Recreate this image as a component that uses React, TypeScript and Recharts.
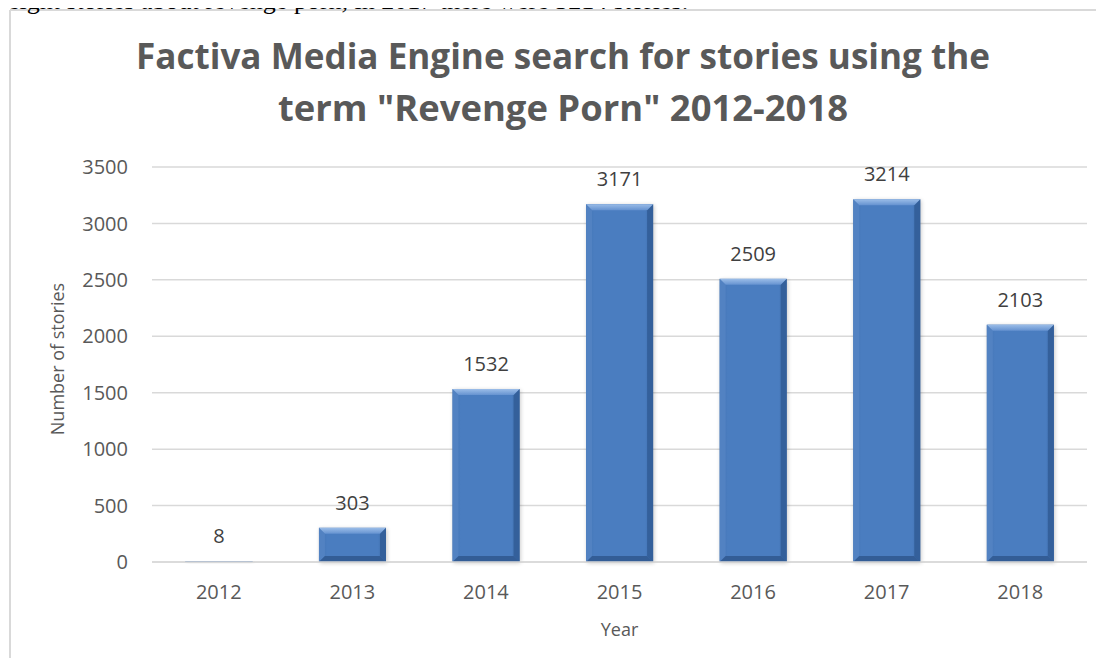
import React from 'react';
import { BarChart, Bar, XAxis, YAxis, CartesianGrid, LabelList, Label } from 'recharts';

const years = ['2012', '2013', '2014', '2015', '2016', '2017', '2018'];
const stories = [8, 303, 1532, 3171, 2509, 3214, 2103];
const yTicks = [0, 500, 1000, 1500, 2000, 2500, 3000, 3500];
const titleLines = ['Factiva Media Engine search for stories using the', 'term "Revenge Porn" 2012-2018'];
const xTitle = 'Year';
const yTitle = 'Number of stories';
const captionText = 'eight stories about revenge porn, in 2017 there were 3214 stories.';

const data = years.map((year, i) => ({ year, stories: stories[i] }));

const FONT = '"Open Sans", "DejaVu Sans", sans-serif';

function BevelBar(props: any) {
  const { x, y, width, height } = props;
  if (width == null || height == null || height <= 0) return null;
  const b = Math.min(6, height / 2, width / 2);
  const r = x + width;
  const btm = y + height;
  return (
    <g>
      <defs>
        <linearGradient id="barBody" x1="0" y1="0" x2="1" y2="0">
          <stop offset="0" stopColor="#3f6fae" />
          <stop offset="0.12" stopColor="#4a7dc0" />
          <stop offset="0.88" stopColor="#4a7dc0" />
          <stop offset="1" stopColor="#3a68a6" />
        </linearGradient>
        <linearGradient id="barTop" x1="0" y1="0" x2="0" y2="1">
          <stop offset="0" stopColor="#9bbde8" />
          <stop offset="1" stopColor="#6592d0" />
        </linearGradient>
        <filter id="barShadow" x="-20%" y="-20%" width="140%" height="140%">
          <feGaussianBlur stdDeviation="2" />
        </filter>
      </defs>
      <rect x={x + 1} y={y + 1} width={width} height={height} fill="#000" opacity={0.22} filter="url(#barShadow)" />
      <rect x={x} y={y} width={width} height={height} fill="url(#barBody)" />
      <polygon points={`${x},${y} ${x + b},${y + b} ${x + b},${btm - b} ${x},${btm}`} fill="#5282c2" />
      <polygon points={`${r},${y} ${r - b},${y + b} ${r - b},${btm - b} ${r},${btm}`} fill="#34609b" />
      <polygon points={`${x},${btm} ${x + b},${btm - b} ${r - b},${btm - b} ${r},${btm}`} fill="#335d96" />
      <polygon points={`${x},${y} ${r},${y} ${r - b},${y + b} ${x + b},${y + b}`} fill="url(#barTop)" />
    </g>
  );
}

function YTitle() {
  return (
    <text
      x={57}
      y={359}
      transform="rotate(-90 57 359)"
      textAnchor="middle"
      dominantBaseline="central"
      fill="#595959"
      fontSize={18}
      fontFamily={FONT}
    >
      {yTitle}
    </text>
  );
}

export default function App() {
  return (
    <div style={{ position: 'relative', width: 1104, height: 666, margin: -8, overflow: 'hidden', background: '#fff' }}>
      <svg width={1104} height={666} style={{ position: 'absolute', left: 0, top: 0 }}>
        <line x1={10} y1={10} x2={1104} y2={10} stroke="#d9d9d9" strokeWidth={2} />
        <line x1={10} y1={10} x2={10} y2={666} stroke="#d9d9d9" strokeWidth={2} />
      </svg>
      <div style={{ position: 'absolute', left: 0, top: 0 }}>
        <BarChart
          width={1104}
          height={666}
          data={data}
          margin={{ top: 167, right: 17, bottom: 24, left: 0 }}
          barCategoryGap="25%"
        >
          <CartesianGrid vertical={false} stroke="#d9d9d9" strokeWidth={1.5} />
          <XAxis
            dataKey="year"
            height={80}
            tickLine={false}
            tickSize={0}
            tickMargin={23}
            axisLine={{ stroke: '#d9d9d9', strokeWidth: 1.5 }}
            tick={{ fill: '#595959', fontSize: 20, fontFamily: FONT }}
            interval={0}
          >
            <Label value={xTitle} position="insideBottom" offset={6} fill="#595959" fontSize={18} fontFamily={FONT} />
          </XAxis>
          <YAxis
            width={152}
            domain={[0, 3500]}
            ticks={yTicks}
            interval={0}
            tickLine={false}
            tickSize={0}
            tickMargin={24}
            axisLine={false}
            tick={{ fill: '#595959', fontSize: 20, fontFamily: FONT }}
          >
            <Label content={<YTitle />} />
          </YAxis>
          <Bar dataKey="stories" shape={<BevelBar />} isAnimationActive={false}>
            <LabelList dataKey="stories" position="top" offset={18} fill="#404040" fontSize={20} fontFamily={FONT} />
          </Bar>
        </BarChart>
      </div>
      <svg width={1104} height={666} style={{ position: 'absolute', left: 0, top: 0, pointerEvents: 'none' }}>
        <text x={8} y={9} fontFamily='"Liberation Serif", "Times New Roman", serif' fontSize={26} fill="#000">
          {captionText}
        </text>
        <text
          x={563}
          y={69}
          textAnchor="middle"
          fontFamily={FONT}
          fontWeight={700}
          fontSize={36}
          fill="#595959"
          textLength={854}
          lengthAdjust="spacingAndGlyphs"
        >
          {titleLines[0]}
        </text>
        <text
          x={563}
          y={121}
          textAnchor="middle"
          fontFamily={FONT}
          fontWeight={700}
          fontSize={36}
          fill="#595959"
          textLength={570}
          lengthAdjust="spacingAndGlyphs"
        >
          {titleLines[1]}
        </text>
      </svg>
    </div>
  );
}
